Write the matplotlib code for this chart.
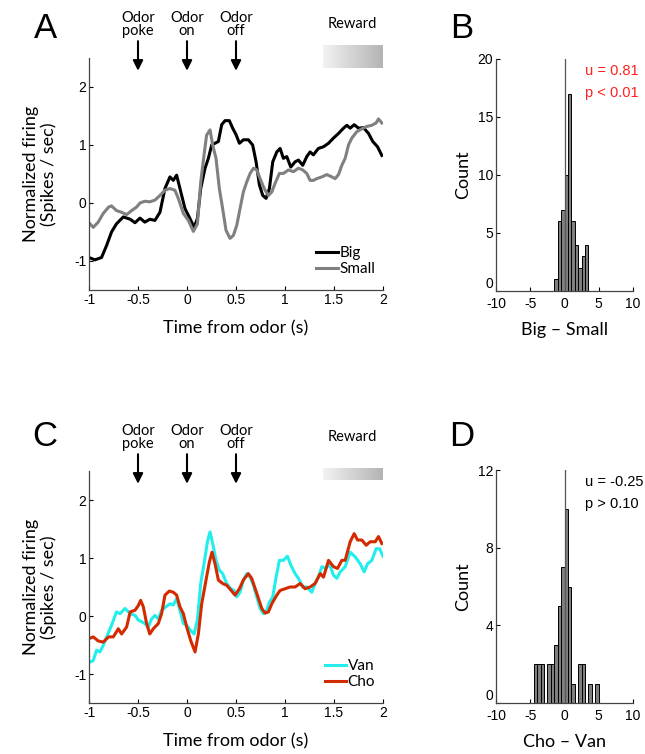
import matplotlib.pyplot as plt
import numpy as np

plt.rcParams['font.family'] = ['Liberation Sans', 'DejaVu Sans']

# panel A traces
t_big = [-1.0, -0.94, -0.872, -0.82, -0.77, -0.72, -0.65, -0.58, -0.53, -0.48, -0.43, -0.38,
         -0.327, -0.276, -0.225, -0.174, -0.14, -0.106, -0.072, -0.02, 0.031, 0.072, 0.106,
         0.14, 0.184, 0.218, 0.252, 0.286, 0.32, 0.354, 0.388, 0.432, 0.466, 0.50, 0.535,
         0.575, 0.626, 0.67, 0.705, 0.739, 0.773, 0.807, 0.841, 0.875, 0.916, 0.95, 0.984,
         1.018, 1.059, 1.103, 1.137, 1.181, 1.222, 1.256, 1.29, 1.34, 1.393, 1.444, 1.495,
         1.546, 1.597, 1.631, 1.665, 1.706, 1.75, 1.80, 1.852, 1.896, 1.944, 1.988]
big = [-0.94, -0.98, -0.94, -0.73, -0.50, -0.36, -0.24, -0.28, -0.34, -0.26, -0.33, -0.28,
       -0.30, -0.16, 0.25, 0.45, 0.39, 0.48, 0.25, -0.10, -0.27, -0.42, -0.27,
       0.25, 0.60, 0.77, 1.0, 1.03, 1.06, 1.35, 1.42, 1.42, 1.29, 1.18, 1.03,
       1.09, 1.09, 1.0, 0.71, 0.31, 0.13, 0.08, 0.25, 0.71, 0.88, 0.94, 0.77,
       0.80, 0.62, 0.71, 0.74, 0.65, 0.80, 0.88, 0.83, 0.94, 0.97, 1.03, 1.12,
       1.20, 1.29, 1.34, 1.29, 1.35, 1.29, 1.30, 1.20, 1.06, 0.97, 0.82]

t_small = [-1.0, -0.957, -0.906, -0.855, -0.80, -0.77, -0.72, -0.667, -0.616, -0.565, -0.514,
           -0.48, -0.43, -0.38, -0.327, -0.276, -0.225, -0.174, -0.123, -0.089, -0.037, 0.014,
           0.065, 0.106, 0.14, 0.174, 0.20, 0.235, 0.262, 0.296, 0.33, 0.364, 0.398, 0.439,
           0.473, 0.507, 0.541, 0.575, 0.609, 0.644, 0.678, 0.712, 0.746, 0.787, 0.831, 0.865,
           0.899, 0.943, 0.984, 1.035, 1.086, 1.137, 1.181, 1.222, 1.256, 1.29, 1.324, 1.376,
           1.427, 1.478, 1.512, 1.546, 1.58, 1.614, 1.648, 1.682, 1.733, 1.784, 1.835, 1.886,
           1.93, 1.954, 1.988]
small = [-0.34, -0.42, -0.33, -0.18, -0.07, -0.05, -0.13, -0.16, -0.20, -0.13, -0.07,
         0.0, 0.03, 0.02, 0.05, 0.13, 0.22, 0.25, 0.22, 0.08, -0.18, -0.30,
         -0.49, -0.36, 0.36, 0.83, 1.17, 1.26, 1.0, 0.77, 0.25, -0.10, -0.47, -0.61,
         -0.56, -0.39, -0.10, 0.19, 0.36, 0.51, 0.60, 0.57, 0.42, 0.25, 0.13, 0.19,
         0.34, 0.51, 0.51, 0.57, 0.54, 0.60, 0.57, 0.51, 0.39, 0.39, 0.42, 0.45,
         0.49, 0.45, 0.42, 0.49, 0.65, 0.77, 1.0, 1.12, 1.23, 1.28, 1.32, 1.34,
         1.38, 1.45, 1.38]

# panel C traces
t_van = [-1.0, -0.957, -0.923, -0.889, -0.855, -0.82, -0.77, -0.72, -0.684, -0.633, -0.58,
         -0.53, -0.497, -0.463, -0.43, -0.395, -0.361, -0.327, -0.293, -0.259, -0.215, -0.174,
         -0.14, -0.106, -0.072, -0.037, -0.003, 0.037, 0.072, 0.106, 0.14, 0.174, 0.208,
         0.235, 0.262, 0.296, 0.33, 0.364, 0.405, 0.446, 0.48, 0.507, 0.541, 0.575, 0.609,
         0.644, 0.678, 0.712, 0.746, 0.78, 0.807, 0.841, 0.875, 0.909, 0.943, 0.984, 1.025,
         1.059, 1.103, 1.137, 1.181, 1.222, 1.273, 1.307, 1.34, 1.376, 1.42, 1.454, 1.495,
         1.529, 1.563, 1.614, 1.665, 1.716, 1.767, 1.808, 1.842, 1.886, 1.93, 1.965, 1.999]
van = [-0.80, -0.77, -0.59, -0.62, -0.51, -0.36, -0.16, 0.07, 0.04, 0.13, 0.04,
       0.01, -0.07, -0.10, -0.13, -0.19, -0.05, 0.01, -0.05, 0.10, 0.16, 0.21,
       0.19, 0.30, 0.10, -0.13, -0.16, -0.25, -0.31, -0.07, 0.56, 0.90, 1.28,
       1.45, 1.25, 0.96, 0.79, 0.73, 0.56, 0.47, 0.44, 0.33, 0.41, 0.62, 0.73,
       0.67, 0.53, 0.33, 0.13, 0.04, 0.07, 0.24, 0.33, 0.67, 0.96, 0.96, 1.03,
       0.88, 0.73, 0.65, 0.50, 0.50, 0.41, 0.56, 0.67, 0.85, 0.82, 0.90, 0.70,
       0.65, 0.76, 0.85, 1.10, 1.02, 0.90, 0.76, 0.90, 0.96, 1.16, 1.16, 1.03]

t_cho = [-1.0, -0.957, -0.906, -0.855, -0.80, -0.752, -0.701, -0.667, -0.616, -0.58, -0.53,
         -0.497, -0.473, -0.446, -0.412, -0.38, -0.344, -0.293, -0.259, -0.225, -0.18, -0.14,
         -0.106, -0.072, -0.037, -0.003, 0.037, 0.082, 0.116, 0.15, 0.194, 0.228, 0.255,
         0.286, 0.32, 0.364, 0.405, 0.456, 0.49, 0.535, 0.575, 0.626, 0.66, 0.712, 0.763,
         0.797, 0.831, 0.865, 0.916, 0.95, 1.001, 1.052, 1.103, 1.154, 1.205, 1.256, 1.307,
         1.359, 1.393, 1.444, 1.495, 1.536, 1.58, 1.614, 1.665, 1.706, 1.74, 1.784, 1.828,
         1.869, 1.92, 1.954, 1.988]
cho = [-0.39, -0.36, -0.43, -0.45, -0.36, -0.36, -0.22, -0.31, -0.19, 0.07, 0.10,
       0.18, 0.27, 0.16, -0.13, -0.31, -0.22, -0.13, 0.04, 0.36, 0.43, 0.41,
       0.36, 0.16, 0.04, -0.19, -0.42, -0.62, -0.31, 0.21, 0.62, 0.93, 1.10,
       0.90, 0.62, 0.56, 0.53, 0.43, 0.36, 0.47, 0.62, 0.73, 0.65, 0.39, 0.13,
       0.05, 0.07, 0.21, 0.36, 0.44, 0.47, 0.50, 0.50, 0.56, 0.47, 0.50, 0.56,
       0.73, 0.67, 0.96, 0.85, 0.82, 0.96, 0.96, 1.28, 1.42, 1.31, 1.31, 1.22,
       1.28, 1.28, 1.37, 1.25]

# histograms (bin left edges, width 0.5)
b_edges = [-1.5, -1.0, -0.5, 0.0, 0.5, 1.0, 1.5, 2.0, 2.5, 3.0]
b_counts = [1, 6, 7, 10, 17, 6, 4, 2, 3, 4]
d_edges = [-4.5, -4.0, -3.5, -3.0, -2.5, -2.0, -1.5, -1.0, -0.5, 0.0, 0.5, 1.0, 1.5, 2.0,
           2.5, 3.0, 3.5, 4.0, 4.5]
d_counts = [2, 2, 2, 0, 2, 2, 3, 5, 7, 10, 6, 1, 0, 2, 2, 0, 1, 0, 1]

events = [-0.5, 0.0, 0.5]
event_labels = ['Odor\npoke', 'Odor\non', 'Odor\noff']
time_ticks = [-1, -0.5, 0, 0.5, 1, 1.5, 2]
time_ticklabels = ['-1', '-0.5', '0', '0.5', '1', '1.5', '2']

LABEL_FONT = ['Lato', 'DejaVu Sans']
W, H = 645, 754


def style(ax):
    for s in ['top', 'right']:
        ax.spines[s].set_visible(False)
    for s in ['left', 'bottom']:
        ax.spines[s].set_color('#444444')
        ax.spines[s].set_linewidth(0.9)
    ax.tick_params(direction='in', length=3, width=0.8, labelsize=10, pad=2)


def trace_panel(ax, rect_lo, rect_hi):
    style(ax)
    ax.set_xlim(-1, 2)
    ax.set_ylim(-1.5, 2.5)
    ax.set_xticks(time_ticks)
    ax.set_xticklabels(time_ticklabels)
    ax.set_yticks([-1, 0, 1, 2])
    ax.set_yticklabels(['-1', '0', '1', '2'])
    ax.set_xlabel('Time from odor (s)', family=LABEL_FONT, fontsize=13, labelpad=10)
    ax.set_ylabel('Normalized firing\n(Spikes / sec)', family=LABEL_FONT, fontsize=13,
                  labelpad=12, linespacing=1.1)
    for x, lab in zip(events, event_labels):
        ax.annotate('', xy=(x, 2.28), xytext=(x, 2.79), annotation_clip=False,
                    arrowprops=dict(arrowstyle='-|>', color='black', lw=1.5,
                                    mutation_scale=15, shrinkA=0, shrinkB=0))
        ax.text(x, 3.08, lab, ha='center', va='center', fontsize=10.5,
                family=LABEL_FONT, linespacing=0.9)
    ax.text(1.69, 3.09, 'Reward', ha='center', va='center', fontsize=10.5, family=LABEL_FONT)
    grad = np.linspace(0, 1, 256).reshape(1, -1)
    ax.imshow(grad, cmap=plt.matplotlib.colors.LinearSegmentedColormap.from_list(
        'g', ['#f2f2f2', '#b4b4b4']), extent=(1.39, 2.0, rect_lo, rect_hi),
        aspect='auto', clip_on=False, zorder=3)
    ax.set_xlim(-1, 2)
    ax.set_ylim(-1.5, 2.5)


def hist_panel(ax, edges, counts, ymax, yticks, xlabel, txt, txt_color):
    style(ax)
    ax.tick_params(axis='x', pad=4)
    ax.bar(edges, counts, width=0.5, align='edge', color='#7f7f7f',
           edgecolor='black', linewidth=0.7, zorder=2)
    ax.plot([0, 0], [0, ymax], color='#555555', lw=0.9, zorder=3)
    ax.set_xlim(-10, 10)
    ax.set_ylim(0, ymax)
    ax.set_xticks([-10, -5, 0, 5, 10])
    ax.set_xticklabels(['-10', '-5', '0', '5', '10'])
    ax.set_yticks(yticks)
    ax.set_yticklabels([str(v) for v in yticks])
    # the zero label sits on the axis line, as in the original
    ax.get_yticklabels()[0].set_va('bottom')
    ax.set_ylabel('Count', family=LABEL_FONT, fontsize=13, labelpad=5)
    ax.set_xlabel(xlabel, family=LABEL_FONT, fontsize=13, labelpad=8)
    ax.text(0.65, 0.93, txt[0], transform=ax.transAxes, color=txt_color, fontsize=10.5)
    ax.text(0.65, 0.835, txt[1], transform=ax.transAxes, color=txt_color, fontsize=10.5)


fig = plt.figure(figsize=(W / 100, H / 100), dpi=100)

axA = fig.add_axes([89 / W, 1 - 290 / H, 294 / W, 232 / H])
axB = fig.add_axes([496 / W, 1 - 291 / H, 137 / W, 232 / H])
axC = fig.add_axes([89 / W, 1 - 703 / H, 294 / W, 232 / H])
axD = fig.add_axes([496 / W, 1 - 703 / H, 137 / W, 233 / H])

trace_panel(axA, 2.33, 2.71)
axA.plot(t_big, big, color='black', lw=2.2, label='Big')
axA.plot(t_small, small, color='#808080', lw=2.2, label='Small')
axA.legend(loc='lower right', bbox_to_anchor=(1.02, 0.0), frameon=False,
           handlelength=1.4, handletextpad=0.1, labelspacing=0.15,
           prop={'family': LABEL_FONT, 'size': 11})

trace_panel(axC, 2.34, 2.53)
axC.plot(t_van, van, color='#22eeee', lw=2.2, label='Van')
axC.plot(t_cho, cho, color='#d42a00', lw=2.2, label='Cho')
axC.legend(loc='lower right', bbox_to_anchor=(1.02, 0.0), frameon=False,
           handlelength=1.4, handletextpad=0.1, labelspacing=0.15,
           prop={'family': LABEL_FONT, 'size': 11})

hist_panel(axB, b_edges, b_counts, 20, [0, 5, 10, 15, 20], 'Big \u2013 Small',
           ['u = 0.81', 'p < 0.01'], '#ff2020')
hist_panel(axD, d_edges, d_counts, 12, [0, 4, 8, 12], 'Cho \u2013 Van',
           ['u = -0.25', 'p > 0.10'], 'black')

for letter, x, y in [('A', 45, 29), ('B', 462, 29), ('C', 45, 436), ('D', 462, 436)]:
    fig.text(x / W, 1 - y / H, letter, fontsize=25, ha='center', va='center')

fig.savefig('out.png', dpi=100)
